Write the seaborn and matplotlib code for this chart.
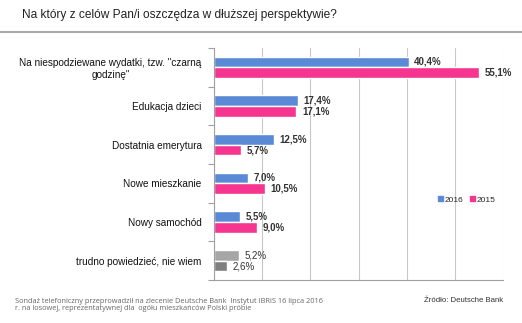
import matplotlib
matplotlib.use("Agg")
import matplotlib.pyplot as plt
import seaborn as sns
import pandas as pd
import numpy as np
from matplotlib.lines import Line2D
from matplotlib.patches import Patch

categories = ['Na niespodziewane wydatki, tzw. "czarną\ngodzinę"',
              "Edukacja dzieci",
              "Dostatnia emerytura",
              "Nowe mieszkanie",
              "Nowy samochód",
              "trudno powiedzieć, nie wiem"]
values_2016 = [40.4, 17.4, 12.5, 7.0, 5.5, 5.2]
values_2015 = [55.1, 17.1, 5.7, 10.5, 9.0, 2.6]
series = ["2016", "2015"]

title = "Na który z celów Pan/i oszczędza w dłuższej perspektywie?"
note = ("Sondaż telefoniczny przeprowadził na zlecenie Deutsche Bank  Instytut IBRiS 16 lipca 2016\n"
        "r. na losowej, reprezentatywnej dla  ogółu mieszkańców Polski próbie")
source = "Źródło: Deutsche Bank"

df = pd.DataFrame({
    "cat": categories * 2,
    "val": values_2016 + values_2015,
    "year": [series[0]] * len(categories) + [series[1]] * len(categories),
})

sns.set_theme(style="white")
plt.rcParams['font.family'] = ['Liberation Sans', 'DejaVu Sans']

blue = "#5A8AD6"
pink = "#F5358F"
lgray = "#A6A6A6"
dgray = "#7F7F7F"

fig = plt.figure(figsize=(5.22, 3.23), dpi=100)
ax = fig.add_axes([214/522, 1-280/323, (503-214)/522, (280-48)/323])

sns.barplot(data=df, y="cat", x="val", hue="year", hue_order=series,
            palette=[blue, pink], orient="h", width=0.56, ax=ax, legend=False,
            saturation=1)

ax.set_xlim(0, 60)
ax.set_ylim(len(categories) - 0.5, -0.5)
ax.set_xlabel("")
ax.set_ylabel("")
ax.set_xticks(np.arange(0, 61, 10))
ax.tick_params(axis="x", length=0, labelbottom=False)
ax.grid(axis="x", color="#C8C8C8", lw=0.8)
ax.set_axisbelow(True)

n = len(categories)
for si, cont in enumerate(ax.containers):
    for i, bar in enumerate(cont):
        if i == n - 1:
            bar.set_facecolor(lgray if si == 0 else dgray)
        w = bar.get_width()
        y = bar.get_y() + bar.get_height() / 2
        txt = f"{w:.1f}%".replace(".", ",")
        ax.annotate(txt, (w, y), xytext=(4, 0), textcoords="offset points",
                    va="center", ha="left", fontsize=7,
                    fontweight="normal" if i == n - 1 else "bold",
                    color="#333333")

ax.tick_params(axis="y", which="major", length=0, labelsize=7.2, pad=9, labelcolor="#111111")
for lab in ax.get_yticklabels():
    lab.set_multialignment("center")
ax.set_yticks(np.arange(-0.5, n, 1.0), minor=True)
ax.tick_params(axis="y", which="minor", length=4, color="#A0A0A0", width=0.8, left=True)

for s in ["top", "right"]:
    ax.spines[s].set_visible(False)
for s in ["left", "bottom"]:
    ax.spines[s].set_color("#A0A0A0")
    ax.spines[s].set_linewidth(0.8)

handles = [Patch(color=blue, label=series[0]), Patch(color=pink, label=series[1])]
ax.legend(handles=handles, loc="center", bbox_to_anchor=(0.875, 0.345), ncol=2,
          frameon=False, fontsize=6, handlelength=0.6, handleheight=0.6,
          handletextpad=0.2, columnspacing=0.8)

fig.text(22/522, 1-15/323, title, fontsize=8.6, va="center", ha="left", color="#222222")
fig.add_artist(Line2D([0, 1], [1-32/323, 1-32/323], color="#A8A8A8", lw=1.5,
                      transform=fig.transFigure))
fig.text(15/522, 1-305/323, note, fontsize=5.3, va="center", ha="left", color="#666666",
         family=["Open Sans", "DejaVu Sans"], linespacing=1.1)
fig.text(503/522, 1-301/323, source, fontsize=5.6, va="center", ha="right", color="#333333")

fig.savefig("out.png", dpi=100)
